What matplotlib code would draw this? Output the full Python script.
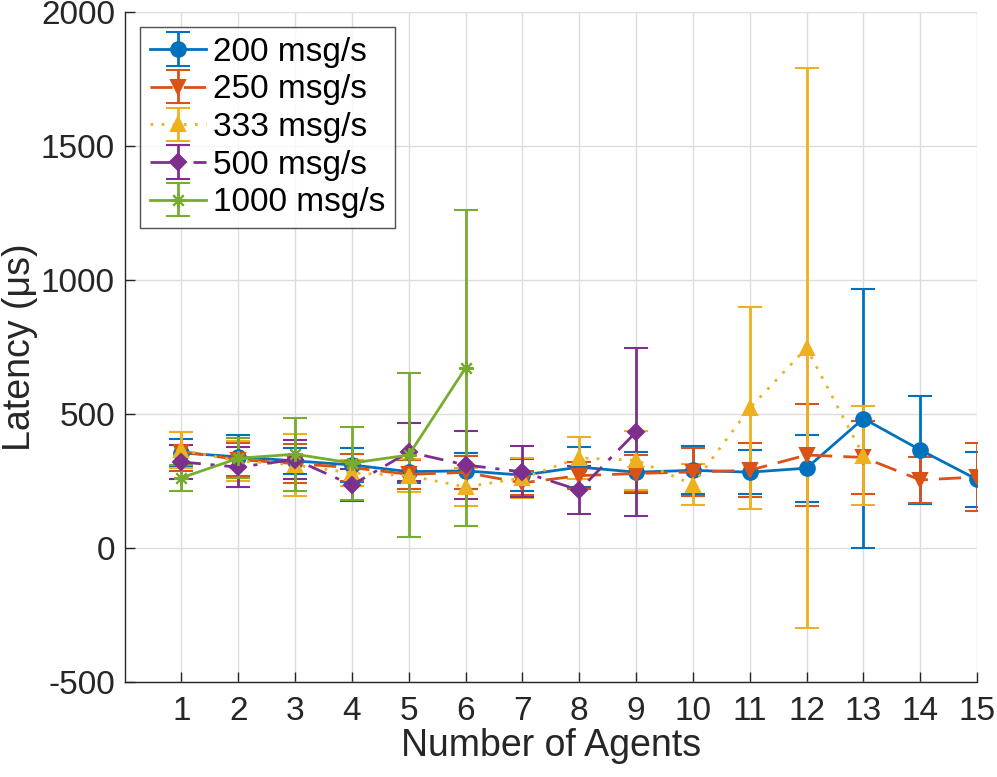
import matplotlib
matplotlib.use('Agg')
import matplotlib.pyplot as plt
import numpy as np

# data
agents = np.arange(1, 16)

lat_200 = [355, 340, 325, 310, 285, 288, 272, 302, 283, 290, 283, 298, 483, 366, 256]
err_200 = [50, 80, 48, 63, 42, 66, 59, 75, 77, 90, 83, 125, 483, 200, 102]

lat_250 = [360, 330, 315, 300, 275, 282, 243, 270, 278, 284, 290, 347, 338, 254, 265]
err_250 = [73, 60, 72, 50, 55, 63, 45, 50, 70, 90, 100, 190, 137, 86, 125]

lat_333 = [365, 325, 310, 280, 270, 228, 261, 336, 328, 237, 522, 746, 345]
err_333 = [68, 75, 115, 50, 61, 70, 75, 78, 110, 77, 378, 1043, 185]

lat_500 = [321, 302, 330, 235, 358, 310, 284, 216, 433]
err_500 = [63, 74, 72, 60, 109, 128, 95, 89, 313]

lat_1000 = [262, 335, 350, 317, 347, 672]
err_1000 = [49, 75, 136, 136, 305, 590]

labels = ['200 msg/s', '250 msg/s', '333 msg/s', '500 msg/s', '1000 msg/s']
xticks = list(range(1, 16))
yticks = [-500, 0, 500, 1000, 1500, 2000]

# style
plt.rcParams['font.family'] = ['Liberation Sans', 'DejaVu Sans']
plt.rcParams['axes.unicode_minus'] = False
dark = '#262626'

fig = plt.figure(figsize=(9.97, 7.77), dpi=100)
ax = fig.add_axes([0.125, 0.122, 0.855, 0.863])

series = [
    (lat_200, err_200, '#0072BD', '-', 'o'),
    (lat_250, err_250, '#D95319', (0, (8, 4)), 'v'),
    (lat_333, err_333, '#EDB120', (0, (1, 3)), '^'),
    (lat_500, err_500, '#7E2F8E', (0, (7, 3.5, 1.5, 3.5)), 'D'),
    (lat_1000, err_1000, '#77AC30', '-', (8, 2, 0)),
]

for (y, e, c, ls, mk), lab in zip(series, labels):
    x = agents[:len(y)]
    ms = 8.5 if mk == 'D' else 10.5
    cont = ax.errorbar(x, y, yerr=e, color=c, linestyle=ls, linewidth=2.0,
                       marker=mk, markersize=ms, markerfacecolor=c,
                       markeredgecolor=c, markeredgewidth=1.5,
                       elinewidth=2.0, capsize=8.5, capthick=2.0, label=lab)
    cont[-1][0].set_linestyle('-')

ax.set_xlim(0, 15)
ax.set_ylim(-500, 2000)
ax.set_xticks(xticks)
ax.set_yticks(yticks)
ax.grid(True, color='#dcdcdc', linewidth=1.0)
ax.set_axisbelow(True)

for s in ['top', 'right']:
    ax.spines[s].set_visible(False)
for s in ['left', 'bottom']:
    ax.spines[s].set_color(dark)
    ax.spines[s].set_linewidth(1.0)

ax.tick_params(direction='in', length=7, width=1.0, colors=dark,
               labelsize=24, pad=7)
ax.tick_params(axis='x', pad=10)
ax.set_xlabel('Number of Agents', fontsize=27, color=dark, labelpad=1)
ax.set_ylabel('Latency (μs)', fontsize=27, color=dark, labelpad=2)

leg = ax.legend(loc='upper left', fontsize=24, frameon=True, fancybox=False,
                handlelength=1.7, handletextpad=0.2, borderpad=0.3,
                labelspacing=0.2, borderaxespad=0.45)
leg.get_frame().set_edgecolor(dark)
leg.get_frame().set_linewidth(1.0)

fig.savefig('out.png', dpi=100)
